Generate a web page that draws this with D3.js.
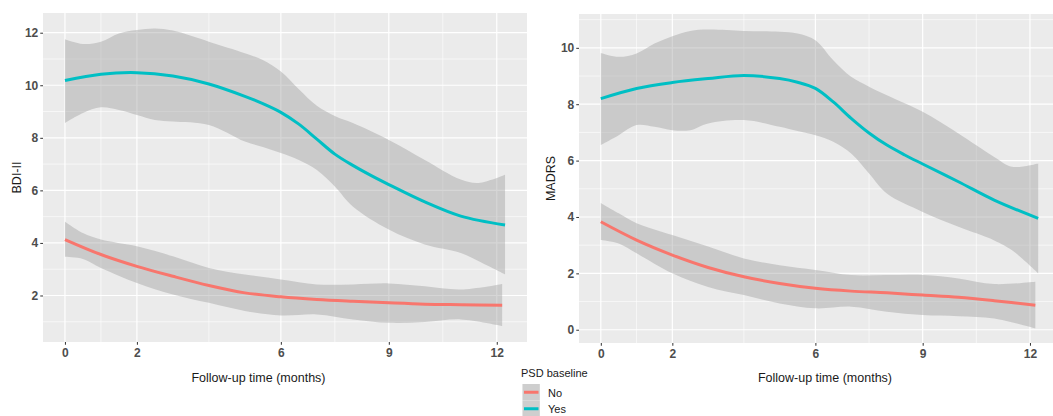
<!DOCTYPE html>
<html>
<head>
<meta charset="utf-8">
<script src="https://cdn.jsdelivr.net/npm/d3@7"></script>
<style>
  html, body { margin: 0; padding: 0; background: #ffffff; }
  svg { display: block; }
  text { font-family: "Liberation Sans", Arial, sans-serif; }
</style>
</head>
<body>
<svg id="chart" width="1053" height="416"></svg>
<script>
// ---------------- data ----------------
const xBreaks = [0, 2, 6, 9, 12];
const xMinor = [1, 4, 7.5, 10.5];
const groups = ["No", "Yes"];
const groupColors = ["#F8766D", "#00BFC4"];

// PSD = Yes (teal) fitted line
const yesLineX = [0, 1, 2, 3, 4, 5, 5.5, 6, 6.5, 7, 7.5, 8, 8.5, 9, 10, 11, 12.23];
const bdiYesFit = [10.18, 10.42, 10.48, 10.35, 10.05, 9.58, 9.30, 8.97, 8.52, 7.95, 7.38, 6.95, 6.57, 6.22, 5.56, 5.02, 4.68];
const madrsYesFit = [8.20, 8.56, 8.77, 8.91, 9.02, 8.91, 8.78, 8.56, 8.08, 7.50, 6.98, 6.55, 6.20, 5.88, 5.25, 4.60, 3.95];

// PSD = Yes confidence band
const yesBandX = [0, 0.5, 1, 1.5, 2, 2.5, 3, 4, 5, 5.5, 6, 6.5, 7, 7.5, 8, 9, 10, 11, 11.5, 12.23];
const bdiYesHi = [11.75, 11.57, 11.66, 11.97, 12.1, 12.16, 12.08, 11.66, 11.22, 10.96, 10.52, 9.85, 9.22, 8.83, 8.56, 7.92, 7.16, 6.41, 6.28, 6.59];
const bdiYesLo = [8.56, 8.94, 9.16, 9.06, 8.87, 8.68, 8.62, 8.49, 7.86, 7.65, 7.42, 7.16, 6.78, 6.15, 5.39, 4.51, 3.94, 3.62, 3.30, 2.80];
const madrsYesHi = [9.82, 9.68, 9.80, 10.15, 10.41, 10.60, 10.65, 10.60, 10.57, 10.51, 10.27, 9.56, 8.97, 8.62, 8.32, 7.73, 6.96, 6.13, 5.78, 5.90];
const madrsYesLo = [6.55, 6.90, 7.26, 7.20, 7.08, 7.08, 7.32, 7.44, 7.20, 7.05, 6.90, 6.67, 6.25, 5.54, 4.83, 4.18, 3.65, 3.17, 2.82, 2.00];

// PSD = No (red) fitted line
const noLineX = [0, 1, 2, 3, 4, 5, 6, 7, 8, 9, 10, 11, 12.15];
const bdiNoFit = [4.13, 3.56, 3.11, 2.73, 2.38, 2.10, 1.95, 1.85, 1.78, 1.72, 1.67, 1.65, 1.63];
const madrsNoFit = [3.83, 3.18, 2.65, 2.21, 1.88, 1.64, 1.47, 1.37, 1.31, 1.23, 1.15, 1.03, 0.87];

// PSD = No confidence band
const noBandX = [0, 0.5, 1, 2, 3, 4, 5, 6, 7, 8, 9, 10, 11, 12.15];
const bdiNoHi = [4.81, 4.38, 4.13, 3.87, 3.49, 3.05, 2.80, 2.61, 2.42, 2.42, 2.46, 2.35, 2.23, 2.44];
const bdiNoLo = [3.47, 3.39, 3.05, 2.48, 2.04, 1.72, 1.41, 1.24, 1.28, 1.09, 0.96, 0.99, 1.09, 0.84];
const madrsNoHi = [4.50, 4.13, 3.78, 3.36, 2.95, 2.53, 2.29, 2.12, 1.94, 1.94, 1.94, 1.82, 1.62, 1.70];
const madrsNoLo = [3.18, 3.06, 2.71, 2.00, 1.52, 1.23, 0.93, 0.76, 0.82, 0.64, 0.52, 0.48, 0.40, 0.05];

const bdiTicks = [2, 4, 6, 8, 10, 12];
const madrsTicks = [0, 2, 4, 6, 8, 10];

// ---------------- drawing ----------------
const svg = d3.select("#chart");

function zip(xs, ys) { return xs.map((x, i) => [x, ys[i]]); }
function zipBand(xs, lo, hi) { return xs.map((x, i) => [x, lo[i], hi[i]]); }

function drawPanel(cfg) {
  const x = d3.scaleLinear().domain([-0.61, 12.84]).range([cfg.left, cfg.right]);
  const y = d3.scaleLinear().domain(cfg.yDomain).range([cfg.bottom, cfg.top]);
  const g = svg.append("g");

  const clipId = "clip-" + cfg.id;
  svg.append("clipPath").attr("id", clipId).append("rect")
    .attr("x", cfg.left).attr("y", cfg.top)
    .attr("width", cfg.right - cfg.left).attr("height", cfg.bottom - cfg.top);

  g.append("rect")
    .attr("x", cfg.left).attr("y", cfg.top)
    .attr("width", cfg.right - cfg.left).attr("height", cfg.bottom - cfg.top)
    .attr("fill", "#EBEBEB");

  // minor grid
  g.selectAll(".vminor").data(xMinor).join("line")
    .attr("x1", d => x(d)).attr("x2", d => x(d))
    .attr("y1", cfg.top).attr("y2", cfg.bottom)
    .attr("stroke", "#ffffff").attr("stroke-width", 0.6);
  g.selectAll(".hminor").data(cfg.yMinor).join("line")
    .attr("x1", cfg.left).attr("x2", cfg.right)
    .attr("y1", d => y(d)).attr("y2", d => y(d))
    .attr("stroke", "#ffffff").attr("stroke-width", 0.6);
  // major grid
  g.selectAll(".vmajor").data(xBreaks).join("line")
    .attr("x1", d => x(d)).attr("x2", d => x(d))
    .attr("y1", cfg.top).attr("y2", cfg.bottom)
    .attr("stroke", "#ffffff").attr("stroke-width", 1.2);
  g.selectAll(".hmajor").data(cfg.yTicks).join("line")
    .attr("x1", cfg.left).attr("x2", cfg.right)
    .attr("y1", d => y(d)).attr("y2", d => y(d))
    .attr("stroke", "#ffffff").attr("stroke-width", 1.2);

  const curve = d3.curveCatmullRom.alpha(0.5);
  const area = d3.area().x(d => x(d[0])).y0(d => y(d[1])).y1(d => y(d[2])).curve(curve);
  const line = d3.line().x(d => x(d[0])).y(d => y(d[1])).curve(curve);

  const plot = g.append("g").attr("clip-path", `url(#${clipId})`);
  cfg.bands.forEach(b => {
    plot.append("path").datum(zipBand(b.x, b.lo, b.hi))
      .attr("d", area).attr("fill", "#999999").attr("fill-opacity", 0.4);
  });
  cfg.lines.forEach(l => {
    plot.append("path").datum(zip(l.x, l.y))
      .attr("d", line).attr("fill", "none")
      .attr("stroke", l.color).attr("stroke-width", 3)
      .attr("stroke-linecap", "butt");
  });

  // axes
  const xAxis = d3.axisBottom(x).tickValues(xBreaks).tickSize(2.75).tickPadding(4);
  const xg = g.append("g").attr("transform", `translate(0,${cfg.bottom})`).call(xAxis);
  const yAxis = d3.axisLeft(y).tickValues(cfg.yTicks).tickSize(2.75).tickPadding(2);
  const yg = g.append("g").attr("transform", `translate(${cfg.left},0)`).call(yAxis);
  [xg, yg].forEach(ag => {
    ag.select(".domain").remove();
    ag.selectAll(".tick line").attr("stroke", "#333333").attr("stroke-width", 1);
    ag.selectAll(".tick text")
      .attr("fill", "#4D4D4D")
      .style("font-family", '"Liberation Sans", Arial, sans-serif')
      .style("font-size", "12px").style("font-weight", "bold");
  });

  // titles
  g.append("text")
    .attr("x", cfg.xTitleX).attr("y", 382)
    .attr("text-anchor", "middle")
    .style("font-size", "12.5px").attr("fill", "#1a1a1a")
    .text("Follow-up time (months)");
  g.append("text")
    .attr("transform", `translate(${cfg.yTitleX},${(cfg.top + cfg.bottom) / 2}) rotate(-90)`)
    .attr("text-anchor", "middle")
    .style("font-size", "12.5px").attr("fill", "#1a1a1a")
    .text(cfg.yTitle);
}

drawPanel({
  id: "bdi", left: 43, right: 527, top: 13, bottom: 342,
  yDomain: [0.23, 12.75], yTicks: bdiTicks, yMinor: [1, 3, 5, 7, 9, 11],
  yTitle: "BDI-II", yTitleX: 20.5, xTitleX: 258.5,
  bands: [
    { x: yesBandX, lo: bdiYesLo, hi: bdiYesHi },
    { x: noBandX, lo: bdiNoLo, hi: bdiNoHi }
  ],
  lines: [
    { x: noLineX, y: bdiNoFit, color: groupColors[0] },
    { x: yesLineX, y: bdiYesFit, color: groupColors[1] }
  ]
});

drawPanel({
  id: "madrs", left: 579, right: 1060, top: 14, bottom: 343,
  yDomain: [-0.47, 11.2], yTicks: madrsTicks, yMinor: [1, 3, 5, 7, 9, 11],
  yTitle: "MADRS", yTitleX: 555, xTitleX: 825,
  bands: [
    { x: yesBandX, lo: madrsYesLo, hi: madrsYesHi },
    { x: noBandX, lo: madrsNoLo, hi: madrsNoHi }
  ],
  lines: [
    { x: noLineX, y: madrsNoFit, color: groupColors[0] },
    { x: yesLineX, y: madrsYesFit, color: groupColors[1] }
  ]
});

// legend
const lg = svg.append("g");
lg.append("text").attr("x", 521).attr("y", 377)
  .style("font-size", "11px").attr("fill", "#1a1a1a").text("PSD baseline");
groups.forEach((name, i) => {
  const ky = 384 + i * 16.5;
  lg.append("rect").attr("x", 522.5).attr("y", ky).attr("width", 17.3).attr("height", 16.5)
    .attr("fill", "#F2F2F2");
  lg.append("rect").attr("x", 522.5).attr("y", ky).attr("width", 17.3).attr("height", 16.5)
    .attr("fill", "#999999").attr("fill-opacity", 0.4);
  lg.append("line").attr("x1", 524).attr("x2", 538.5)
    .attr("y1", ky + 8.25).attr("y2", ky + 8.25)
    .attr("stroke", groupColors[i]).attr("stroke-width", 3);
  lg.append("text").attr("x", 548).attr("y", ky + 12.5)
    .style("font-size", "11px").attr("fill", "#1a1a1a").text(name);
});
</script>
</body>
</html>
